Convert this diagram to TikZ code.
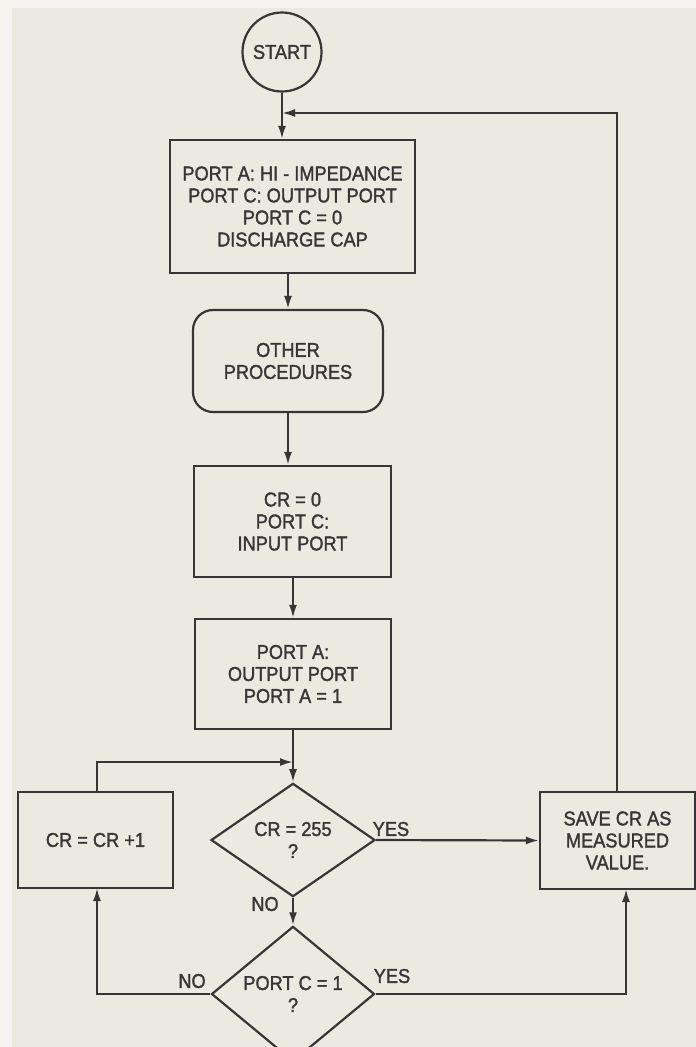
\documentclass[tikz,border=0pt]{standalone}
\usepackage{fontspec}
\setmainfont{Liberation Sans}[FakeStretch=0.91,FakeBold=1.5]
\usetikzlibrary{shapes.geometric,arrows.meta}
\definecolor{bg}{HTML}{ECE9E1}
\definecolor{edge}{HTML}{F5F4F0}
\definecolor{ink}{HTML}{363636}
\begin{document}
\begin{tikzpicture}[x=1pt,y=-1pt,
  font=\fontsize{20}{22}\selectfont,
  every node/.style={text=ink},
  box/.style={draw=ink, line width=2.2pt, rectangle, align=center, inner sep=2pt},
  rbox/.style={box, rounded corners=20pt},
  circ/.style={draw=ink, line width=2.2pt, circle, minimum size=79pt, inner sep=0pt},
  dec/.style={draw=ink, line width=2.2pt, diamond, align=center, inner sep=0pt},
  lbl/.style={inner sep=0pt},
  conn/.style={draw=ink, line width=2.2pt},
  arr/.style={conn, -{Latex[length=13pt,width=8pt]}}]
% background
\fill[edge] (0,0) rectangle (696,1047);
\fill[bg] (12,8) rectangle (696,1047);
\useasboundingbox (0,0) rectangle (696,1047);

% nodes
\node[circ] (start) at (282,52) {START};
\node[box, minimum width=245pt, minimum height=133pt] (b1) at (292.5,206.5)
  {PORT A: HI - IMPEDANCE\\PORT C: OUTPUT PORT\\PORT C = 0\\DISCHARGE CAP};
\node[rbox, minimum width=190pt, minimum height=102pt] (b2) at (288,361)
  {OTHER\\PROCEDURES};
\node[box, minimum width=197pt, minimum height=111pt] (b3) at (292.5,521.5)
  {CR = 0\\PORT C:\\INPUT PORT};
\node[box, minimum width=196pt, minimum height=110pt] (b4) at (293,674)
  {PORT A:\\OUTPUT PORT\\PORT A = 1};
\node[dec, minimum width=164pt, minimum height=105pt] (d1) at (293,840)
  {CR = 255\\?};
\node[box, minimum width=155pt, minimum height=96pt] (inc) at (95.5,840)
  {CR = CR +1};
\node[box, minimum width=155pt, minimum height=97pt] (save) at (617.5,840.5)
  {SAVE CR AS\\MEASURED\\VALUE.};
\node[dec, minimum width=163pt, minimum height=103pt] (d2) at (293,994)
  {PORT C = 1\\?};

% labels
\node[lbl] (yes1) at (391,829) {YES};
\node[lbl] (no1) at (265,904) {NO};
\node[lbl] (no2) at (192,981) {NO};
\node[lbl] (yes2) at (392,976) {YES};

% helper coordinates
\coordinate (retR) at (617,113);
\coordinate (retL) at (282,113);
\coordinate (saveTop) at (617,792);
\coordinate (loopA) at (97,762);
\coordinate (loopB) at (293,762);
\coordinate (incTop) at (97,792);
\coordinate (incBot) at (97,888);
\coordinate (saveBot) at (626,889);
\coordinate (d2L) at (97,994);
\coordinate (d2R) at (626,994);

% connectors
\draw[arr] (start.south) -- (start.south |- b1.north);
\draw[arr] (saveTop) -- (retR) -- (retL);
\draw[arr] (b1.south -| b2.north) -- (b2.north);
\draw[arr] (b2.south) -- (b2.south |- b3.north);
\draw[arr] (b3.south -| b4.north) -- (b4.north);
\draw[arr] (b4.south -| d1.north) -- (d1.north);
\draw[arr] (incTop) -- (loopA) -- (loopB);
\draw[arr] (d1.east) -- (save.west);
\draw[arr] (d1.south) -- (d2.north);
\draw[arr] (d2.west) -- (d2L) -- (incBot);
\draw[arr] (d2.east) -- (d2R) -- (saveBot);
\end{tikzpicture}
\end{document}
